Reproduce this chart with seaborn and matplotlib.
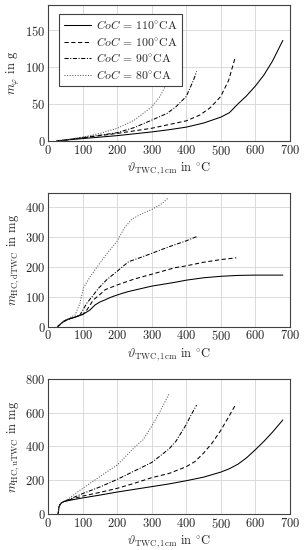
import numpy as np
import pandas as pd
import seaborn as sns
import matplotlib
matplotlib.use("Agg")
import matplotlib.pyplot as plt

# CoC levels (crank angle) used in every panel
coc_levels = ["110", "100", "90", "80"]

# --- panel 1: m_phi in g ---
p1_x_110 = [25, 50, 100, 150, 200, 250, 300, 350, 400, 450, 500, 525, 550, 575, 600, 625, 650, 665, 680]
p1_y_110 = [0, 1, 3, 5, 7, 9.5, 12, 15, 18.5, 24, 32, 38, 50, 61, 74, 89, 108, 122, 136]
p1_x_100 = [25, 50, 100, 150, 200, 250, 300, 350, 400, 440, 470, 500, 523, 542]
p1_y_100 = [0, 1, 4, 7, 10, 13.5, 17, 22, 27, 35, 45, 60, 82, 113]
p1_x_90 = [25, 50, 100, 150, 200, 250, 300, 344, 370, 400, 421, 430]
p1_y_90 = [0, 1, 4.5, 7.5, 11, 18, 28, 37, 46, 60, 82, 94]
p1_x_80 = [25, 50, 100, 150, 200, 250, 300, 324, 348, 352]
p1_y_80 = [0, 1.5, 5, 10, 17, 28, 46, 60, 82, 90]

# --- panel 2: m_HC,dTWC in mg ---
p2_x_110 = [27, 35, 44, 58, 80, 100, 120, 136, 150, 165, 180, 194, 215, 233, 270, 300, 368, 400, 450, 500, 550, 600, 650, 680]
p2_y_110 = [0, 8, 17, 25, 33, 41, 55, 73, 83, 90, 98, 104, 112, 118, 128, 136, 149, 156, 164, 169, 172, 173, 173, 173]
p2_x_100 = [27, 35, 44, 58, 80, 100, 112, 131, 150, 165, 200, 250, 300, 368, 400, 450, 500, 545]
p2_y_100 = [0, 8, 17, 25, 33, 41, 56, 90, 108, 124, 140, 160, 176, 198, 204, 216, 225, 231]
p2_x_90 = [27, 35, 44, 58, 80, 92, 112, 130, 146, 170, 200, 233, 270, 300, 350, 400, 430]
p2_y_90 = [0, 8, 17, 25, 33, 39, 79, 105, 129, 158, 186, 218, 233, 246, 268, 288, 302]
p2_x_80 = [27, 35, 48, 78, 92, 102, 120, 136, 170, 200, 220, 242, 270, 300, 330, 349]
p2_y_80 = [0, 9, 22, 39, 79, 129, 165, 191, 245, 287, 330, 360, 378, 393, 413, 433]

# --- panel 3: m_HC,uTWC in mg ---
p3_x_110 = [29, 31, 34, 38, 45, 60, 100, 150, 200, 250, 300, 350, 400, 450, 500, 525, 550, 575, 600, 625, 650, 680]
p3_y_110 = [0, 40, 55, 65, 73, 80, 95, 112, 130, 146, 162, 178, 197, 218, 248, 268, 295, 333, 380, 430, 485, 557]
p3_x_100 = [29, 31, 34, 38, 45, 60, 100, 150, 200, 250, 300, 350, 400, 425, 450, 475, 500, 520, 544]
p3_y_100 = [0, 40, 55, 65, 73, 83, 106, 128, 152, 182, 215, 240, 280, 310, 360, 420, 495, 565, 651]
p3_x_90 = [29, 31, 34, 38, 45, 60, 100, 150, 200, 250, 300, 350, 370, 400, 415, 430]
p3_y_90 = [0, 40, 55, 65, 74, 86, 121, 160, 205, 255, 305, 385, 430, 530, 590, 645]
p3_x_80 = [29, 31, 34, 38, 45, 60, 100, 150, 200, 250, 275, 300, 325, 350]
p3_y_80 = [0, 40, 55, 65, 75, 92, 152, 222, 290, 395, 440, 520, 610, 712]

x_ticks = [0, 100, 200, 300, 400, 500, 600, 700]
p1_y_ticks = [0, 50, 100, 150]
p2_y_ticks = [0, 100, 200, 300, 400]
p3_y_ticks = [0, 200, 400, 600, 800]


def long_frame(series):
    parts = []
    for level, xs, ys in series:
        parts.append(pd.DataFrame({"temp": xs, "mass": ys, "coc": level}))
    return pd.concat(parts, ignore_index=True)


df1 = long_frame([("110", p1_x_110, p1_y_110), ("100", p1_x_100, p1_y_100),
                  ("90", p1_x_90, p1_y_90), ("80", p1_x_80, p1_y_80)])
df2 = long_frame([("110", p2_x_110, p2_y_110), ("100", p2_x_100, p2_y_100),
                  ("90", p2_x_90, p2_y_90), ("80", p2_x_80, p2_y_80)])
df3 = long_frame([("110", p3_x_110, p3_y_110), ("100", p3_x_100, p3_y_100),
                  ("90", p3_x_90, p3_y_90), ("80", p3_x_80, p3_y_80)])

sns.set_theme(style="white")
plt.rcParams["font.family"] = "serif"
plt.rcParams["font.serif"] = ["cmr10", "DejaVu Serif"]
plt.rcParams["mathtext.fontset"] = "cm"
plt.rcParams["axes.formatter.use_mathtext"] = True

dash_map = {"110": "", "100": (4, 2.5), "90": (4, 1.5, 1, 1.5), "80": (1, 1.5)}

fig = plt.figure(figsize=(3.05, 5.5), dpi=100)
boxes = [[0.158, 0.744, 0.792, 0.247],
         [0.158, 0.406, 0.792, 0.244],
         [0.158, 0.0655, 0.792, 0.2455]]
frames = [df1, df2, df3]
ylims = [184, 450, 800]
yticks = [p1_y_ticks, p2_y_ticks, p3_y_ticks]
ylabels = [r"$m_{\varphi}$ in g",
           r"$m_{\mathrm{HC,dTWC}}$ in mg",
           r"$m_{\mathrm{HC,uTWC}}$ in mg"]

for i in range(3):
    ax = fig.add_axes(boxes[i])
    sns.lineplot(data=frames[i], x="temp", y="mass", style="coc",
                 style_order=coc_levels, dashes=dash_map, color="black",
                 linewidth=0.75, sort=False, estimator=None, legend=False, ax=ax)
    # the dotted curve is drawn thin and greyish in the original
    ax.lines[3].set_color("0.35")
    ax.set_xlim(0, 700)
    ax.set_ylim(0, ylims[i])
    ax.set_xticks(x_ticks)
    ax.set_yticks(yticks[i])
    ax.grid(True, color="#d4d4d4", linewidth=0.6)
    ax.set_axisbelow(True)
    for s in ax.spines.values():
        s.set_color("0.25")
        s.set_linewidth(0.8)
    ax.tick_params(direction="in", length=3, width=0.6, labelsize=9, pad=2,
                   color="0.25")
    ax.set_xlabel(r"$\vartheta_{\mathrm{TWC,1cm}}$ in $^{\circ}$C", fontsize=9, labelpad=2)
    ax.set_ylabel(ylabels[i], fontsize=9, labelpad=2)
    if i == 0:
        labels = [r"$CoC$ = 110$^{\circ}$CA", r"$CoC$ = 100$^{\circ}$CA",
                  r"$CoC$ = 90$^{\circ}$CA", r"$CoC$ = 80$^{\circ}$CA"]
        leg = ax.legend(ax.lines[:4], labels, loc="upper left", fontsize=8.5,
                        frameon=True, fancybox=False, framealpha=1,
                        edgecolor="0.25", handlelength=2.3, handletextpad=0.4,
                        borderpad=0.4, labelspacing=0.3,
                        bbox_to_anchor=(0.02, 0.98))
        leg.get_frame().set_linewidth(0.8)

fig.savefig("out.png", dpi=100)
